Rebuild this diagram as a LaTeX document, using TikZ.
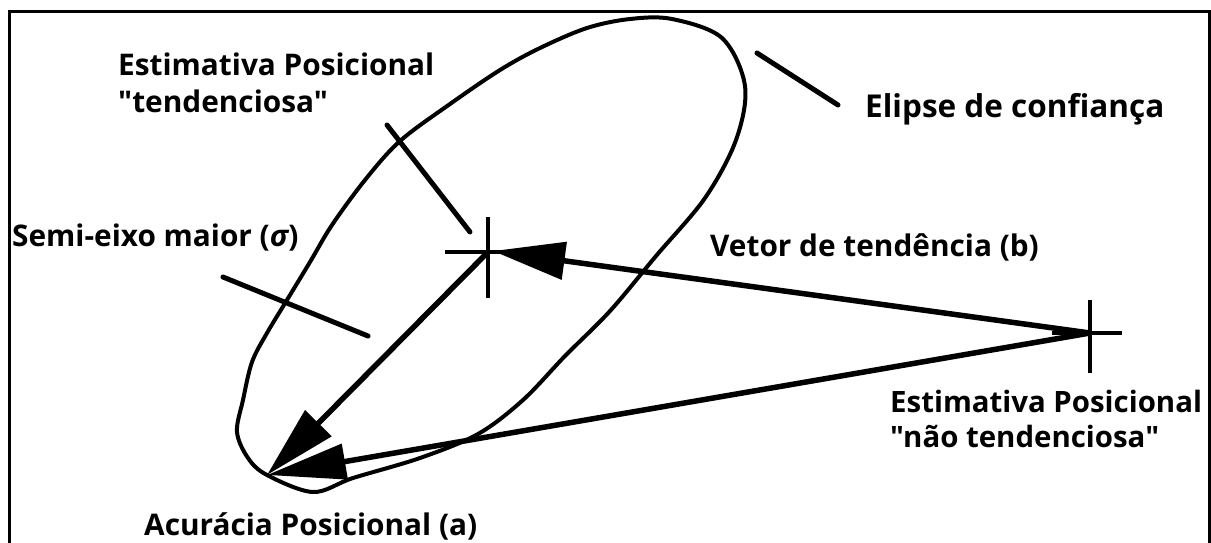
\documentclass[tikz,border=0pt]{standalone}
\usepackage{fontspec}
\setmainfont{Open Sans}[Ligatures=TeXOff]
\usetikzlibrary{arrows.meta}
\begin{document}
\begin{tikzpicture}[x=1pt,y=-1pt,
  lbl/.style={inner sep=0pt,anchor=base west,font=\bfseries\fontsize{29.8}{36}\selectfont,text=black},
  lblbig/.style={lbl,font=\bfseries\fontsize{31.5}{38}\selectfont},
  leader/.style={line width=5pt,line cap=round},
  crossline/.style={line width=4.5pt},
  vec/.style={line width=5.5pt},
  ell/.style={line width=4pt,line join=round}
]
\useasboundingbox (0,0) rectangle (1211,542);
% frame
\draw[line width=3pt] (9,560) -- (9,11) -- (1209,11) -- (1209,560);

% key points
\coordinate (B) at (488,252);
\coordinate (U) at (1090,333);
\coordinate (A) at (267,475);
\coordinate (Btip) at (493,251);

% confidence ellipse (hand drawn outline)
\draw[ell] plot[smooth cycle,tension=0.55] coordinates {
  (672,19) (722,38) (745,86) (736,140) (705,198) (656,256) (610,311)
  (565,356) (523,400) (478,434) (420,458) (353,478) (313,492) (267,475)
  (248,458) (237,432) (243,400) (252,362) (267,333) (287,300) (310,262)
  (332,225) (365,180) (400,141) (450,104) (500,70) (540,48) (587,28) (630,19)};

% crosses
\draw[crossline] (488,217) -- (488,298);
\draw[crossline] (445,252) -- (531,252);
\draw[crossline] (1090,300) -- (1090,373);
\draw[crossline] (1052,333) -- (1122,333);

% vectors
\draw[vec,-{Triangle[length=72pt,width=37pt]}] (U) -- (Btip);
\draw[vec,-{Triangle[length=73pt,width=36pt]}] (B) -- (A);
\draw[vec,-{Triangle[length=79pt,width=35pt]}] (U) -- (A);

% leader lines
\coordinate (l1a) at (387,125); \coordinate (l1b) at (470,232);
\coordinate (l2a) at (223,277); \coordinate (l2b) at (368,336);
\coordinate (l3a) at (757,53);  \coordinate (l3b) at (838,105);
\draw[leader] (l1a) -- (l1b);
\draw[leader] (l2a) -- (l2b);
\draw[leader] (l3a) -- (l3b);

% labels
\node[lbl] (t1) at (118,75) {Estimativa Posicional};
\node[lbl] (t2) at (118,112) {"tendenciosa"};
\node[lblbig] (t3) at (865,117) {Elipse de confiança};
\node[lbl] (t4) at (12,246) {Semi-eixo maior ({\itshape σ})};
\node[lbl] (t5) at (710,256) {Vetor de tendência (b)};
\node[lbl,font=\bfseries\fontsize{29.4}{36}\selectfont] (t6) at (890,412) {Estimativa Posicional};
\node[lbl,font=\bfseries\fontsize{29.4}{36}\selectfont] (t7) at (890,447) {"não tendenciosa"};
\node[lbl] (t8) at (144,535) {Acurácia Posicional (a)};
\end{tikzpicture}
\end{document}
